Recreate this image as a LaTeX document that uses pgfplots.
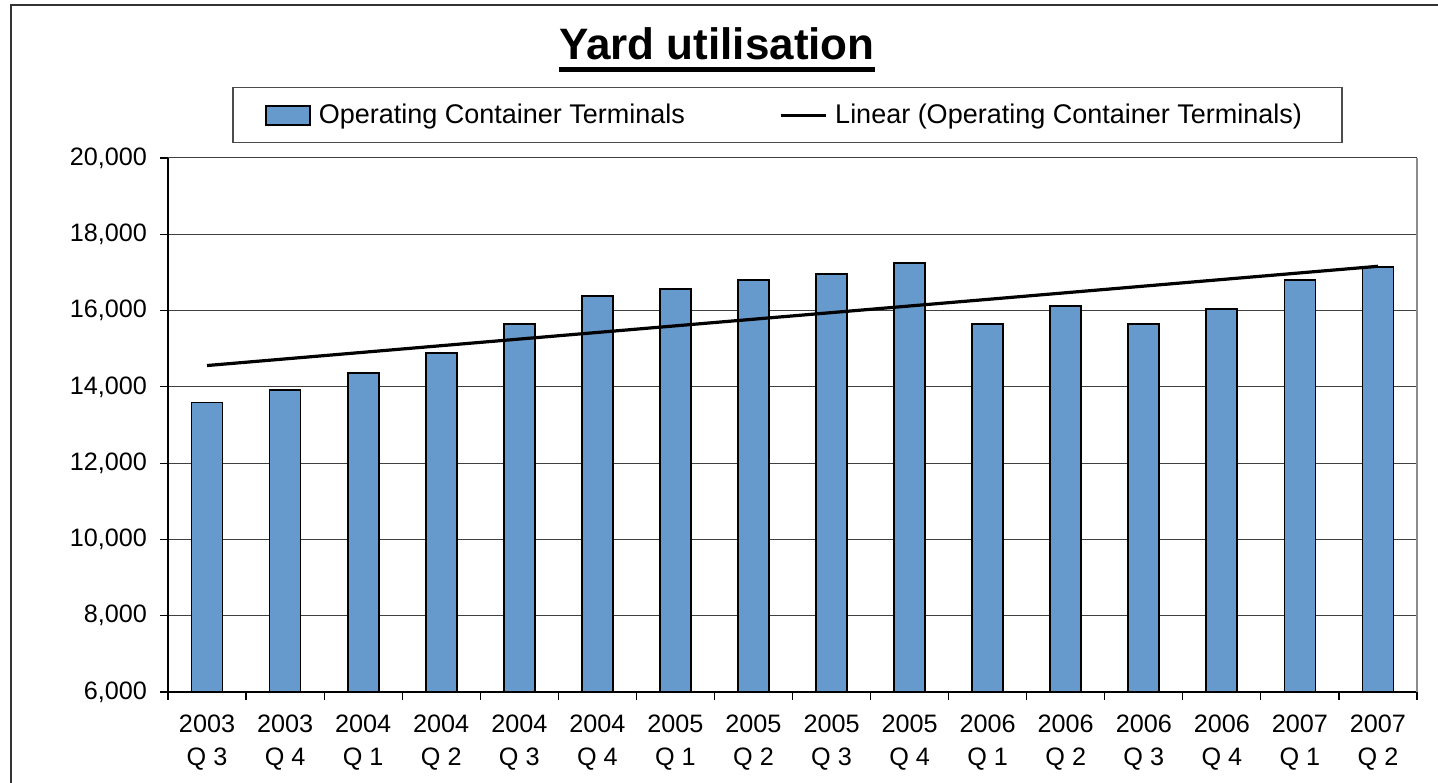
\documentclass[border=0pt]{standalone}
\usepackage{fontspec}
\setmainfont{Liberation Sans}
\usepackage{pgfplots}
\pgfplotsset{compat=1.18}

\definecolor{barblue}{HTML}{6699CC}
\pgfplotsset{
    barlegend/.style={legend image code/.code={\draw[##1, line width=0.9pt] (0pt,-4.75pt) rectangle (22pt,4.75pt);}},
    linelegend/.style={legend image code/.code={\draw[##1] (0pt,0pt) -- (22.5pt,0pt);}},
}

\begin{document}
\begin{tikzpicture}
\useasboundingbox (-84pt,-45pt) rectangle (635pt,346pt);
% chart frame (cut off at right and bottom)
\draw[line width=1pt, black!80] (-78.5pt,-46pt) -- (-78.5pt,343.5pt) -- (636pt,343.5pt);

% title
\node[anchor=base, font=\fontsize{22}{26}\selectfont\bfseries] at (274.5pt,316pt) {Yard utilisation};
\draw[line width=2.5pt] (195.5pt,311pt) -- (353.5pt,311pt);

\begin{axis}[
    at={(0pt,0pt)}, anchor=south west,
    scale only axis,
    width=624.5pt, height=267pt,
    xmin=0.5, xmax=16.5,
    ymin=6000, ymax=20000,
    ytick={6000,8000,...,20000},
    scaled y ticks=false,
    xtick={1,...,16},
    xticklabels={2003\\Q 3,2003\\Q 4,2004\\Q 1,2004\\Q 2,2004\\Q 3,2004\\Q 4,2005\\Q 1,2005\\Q 2,2005\\Q 3,2005\\Q 4,2006\\Q 1,2006\\Q 2,2006\\Q 3,2006\\Q 4,2007\\Q 1,2007\\Q 2},
    minor xtick={0.5,1.5,...,16.5},
    major x tick style={draw=none},
    minor tick length=4pt,
    major tick length=4pt,
    tick align=outside,
    tick style={black, line width=0.6pt},
    xticklabel style={align=center, font=\fontsize{12.6}{16.5}\selectfont, yshift=-4pt},
    yticklabel style={font=\fontsize{12.6}{15}\selectfont, xshift=-3pt},
    /pgf/number format/.cd, 1000 sep={,}, assume math mode=true,
    /pgfplots/.cd,
    axis lines*=left,
    axis line style={black, line width=0.6pt},
    ymajorgrids=true,
    grid style={black!75, line width=0.5pt},
    legend columns=2,
    legend style={
        at={(0.496,1)}, anchor=south, yshift=7.5pt,
        draw=black!70, line width=0.6pt,
        font=\fontsize{13.5}{16}\selectfont,
        inner xsep=16pt, inner ysep=6pt,
        /tikz/every even column/.append style={column sep=43pt},
        nodes={inner xsep=4pt},
    },
    legend cell align=left,
    clip=false,
]
\addplot[ybar, bar width=15.5pt, fill=barblue, draw=black, line width=0.9pt, barlegend]
coordinates {
(1,13590)(2,13920)(3,14360)(4,14890)(5,15650)(6,16380)(7,16570)(8,16800)
(9,16960)(10,17250)(11,15650)(12,16120)(13,15650)(14,16040)(15,16800)(16,17140)
};
\addlegendentry{Operating Container Terminals}

\addplot[black, line width=1.6pt, no marks, linelegend]
coordinates {(1,14559)(16,17161)};
\addlegendentry{Linear (Operating Container Terminals)}

\draw[black!45, line width=0.8pt] (rel axis cs:1,0) -- (rel axis cs:1,1);
\end{axis}
\end{tikzpicture}
\end{document}
